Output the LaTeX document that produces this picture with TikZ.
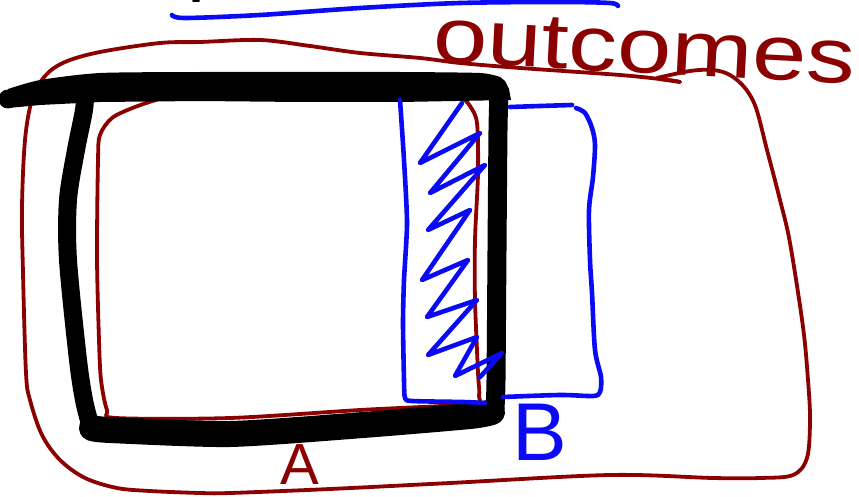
\documentclass[tikz,border=0pt]{standalone}
\usepackage{fontspec}
\setmainfont{Liberation Sans}
\definecolor{inkred}{HTML}{8B0000}
\definecolor{inkblue}{HTML}{0A0AF5}
\tikzset{
  redink/.style={draw=inkred, line width=3.8pt, line cap=round, line join=round},
  blueink/.style={draw=inkblue, line width=4.6pt, line cap=round, line join=round},
  blackink/.style={draw=black, line width=21pt, line cap=round, line join=round},
  label/.style={inner sep=0pt, outer sep=0pt}
}
\begin{document}
\begin{tikzpicture}[x=1pt,y=-1pt]
\useasboundingbox (0,0) rectangle (859,497);
% outer red outline
\draw[redink] plot[smooth, tension=0.55] coordinates {
 (657,78) (690,71) (713,70) (730,75) (745,88) (756,108) (767,150) (780,200) (790,243) (803,327) (808,380) (810,420) (807,458) (793,475) (760,478) (713,478) (610,475) (450,483) (330,489) (230,493) (200,493) (150,491) (117,488) (85,478) (60,460) (42,435) (30,400) (26,373) (23,273) (22,207) (25,140) (32,100) (45,76) (65,62) (100,52) (160,43) (200,42) (260,40) (310,46) (360,53) (420,58) (460,63) (520,68) (620,75) (668,80) (680,82)};
\draw[redink] (680,82) -- (660,79);
% inner red (A)
\draw[redink] plot[smooth, tension=0.5] coordinates {
 (165,97) (135,107) (112,118) (100,135) (98,160) (97,257) (99,340) (101,380) (107,410) (116,418) (230,418) (360,410) (470,404) (479,396) (478,373) (475,300) (475,240) (478,173) (477,123) (470,106) (462,97)};
% black frame
\fill[black] plot[smooth, tension=0.4] coordinates {(8,89) (40,80) (100,73) (200,72) (300,72) (400,72) (480,73) (500,77)}
  -- (505,81) -- (509,89) -- (511,100) -- (400,102) -- (300,102) -- (200,101) -- (100,102) -- (40,105) -- (8,108) -- cycle;
\fill[black] (8,99) circle (9.5pt);
\draw[blackink, line width=19pt] plot[smooth, tension=0.4] coordinates {(499,92) (498,130) (497,250) (496,380) (495,408)};
\draw[blackink, line width=26pt] plot[smooth, tension=0.4] coordinates {(492,412) (470,416) (363,425) (230,434) (110,430) (92,428)};
\draw[blackink, line width=18pt] plot[smooth, tension=0.5] coordinates {(90,424) (84,400) (78,360) (68,260) (68,200) (76,150) (84,110) (85,92)};
% blue top line
\draw[blueink] plot[smooth, tension=0.5] coordinates {(172,15) (185,18) (260,15) (360,8) (460,3) (560,2) (610,3) (618,6)};
% blue hatched strip
\draw[blueink] plot[smooth, tension=0.4] coordinates {(400,100) (404,160) (407,223) (404,280) (403,323) (404,380) (405,398) (412,401) (463,402) (485,403)};
\draw[blueink] (462,103) -- (420,163) -- (480,133) -- (430,193) -- (485,165) -- (428,230) -- (470,210) -- (422,280) -- (468,260) -- (427,317) -- (477,300) -- (428,355) -- (477,337) -- (455,376) -- (502,353) -- (480,377);
% blue box (B)
\draw[blueink] plot[smooth, tension=0.4] coordinates {(510,107) (540,106) (572,105)};
\draw[blueink] plot[smooth, tension=0.5] coordinates {(576,108) (585,113) (592,128) (595,145) (593,177) (589,210) (590,260) (592,293) (595,350) (601,377) (600,392) (593,396) (560,395) (503,397)};
% small mark
\draw[black, line width=2pt, line cap=round] (193,1) -- (199,1);
% labels
\node[label, text=inkred, anchor=base west, rotate=-3, xscale=1.25] (outcomes) at (432,62) {\fontsize{78}{78}\selectfont outcomes};
\node[label, text=inkred, anchor=base] (labelA) at (300,484) {\fontsize{58}{58}\selectfont A};
\node[label, text=inkblue, anchor=base] (labelB) at (540,460) {\fontsize{82}{82}\selectfont B};
\end{tikzpicture}
\end{document}
